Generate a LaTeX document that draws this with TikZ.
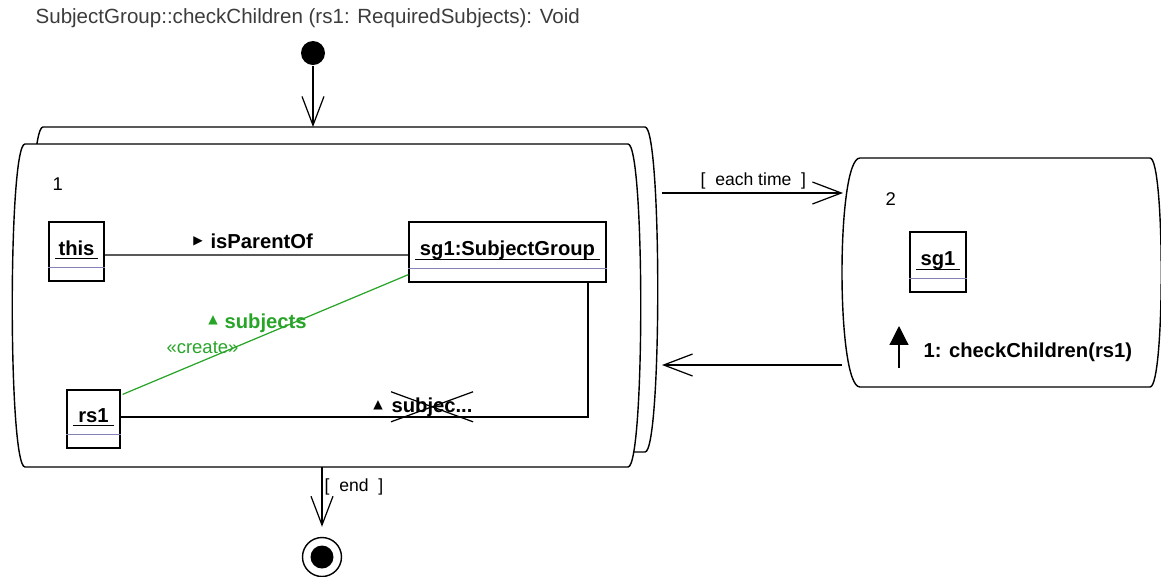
\documentclass[tikz,border=0pt]{standalone}
\usepackage{fontspec}
\setmainfont{Liberation Sans}
\newfontfamily\symfont{DejaVu Sans}
\usetikzlibrary{arrows.meta}
\newdimen\px \px=0.02cm
\definecolor{umlgreen}{RGB}{40,165,40}
\definecolor{titlegray}{RGB}{60,60,60}
\definecolor{sepblue}{RGB}{130,130,180}

\begin{document}
\begin{tikzpicture}[
  x=0.02cm, y=-0.02cm, line width=0.7pt,
  state/.style={draw,line width=0.8pt,fill=white},
  objbox/.style={draw,line width=0.7pt,inner sep=0pt},
  objname/.style={font=\bfseries\fontsize{11.5}{13}\selectfont,inner sep=0pt,anchor=base},
  lbl/.style={font=\bfseries\fontsize{11.5}{13}\selectfont,inner sep=0pt,anchor=base west},
  plain/.style={font=\fontsize{10.5}{12}\selectfont,inner sep=0pt,anchor=base west},
  tri/.style={font=\symfont\fontsize{7}{7}\selectfont,inner sep=0pt},
  open/.style={-{Straight Barb[length=16.4pt,width=12.5pt]}},
  sep/.style={draw=sepblue,line width=0.5pt}
]
  \useasboundingbox (0,0) rectangle (1161,576);

  % title
  \node[plain,font=\fontsize{11.7}{13}\selectfont,text=titlegray] (title) at (35,23) {SubjectGroup::checkChildren (rs1: RequiredSubjects): Void};

  % start
  \node[circle,fill,minimum size=24\px,inner sep=0pt] (init) at (313,53) {};
  \coordinate (s1top) at (313,127);
  \draw[open] (init) -- (s1top);

  % state 1 (stacked)
  \draw[state] (43,127) -- (645,127) .. controls (662,127) and (662,452) .. (645,452)
    -- (43,452) .. controls (26,452) and (26,127) .. (43,127) -- cycle;
  \draw[state] (25,144) -- (628,144) .. controls (645,144) and (645,467) .. (628,467)
    -- (25,467) .. controls (8,467) and (8,144) .. (25,144) -- cycle;
  \node[plain] (n1) at (52,190) {1};

  % objects in state 1
  \node[objbox,minimum width=55\px,minimum height=59\px] (this) at (76.5,251.5) {};
  \node[objbox,minimum width=197\px,minimum height=60\px] (sg1) at (507.5,252) {};
  \node[objbox,minimum width=53\px,minimum height=58\px] (rs1) at (93.5,419) {};
  \node[objname] (thisLbl) at (76.5,255) {this};
  \node[objname] (sg1Lbl) at (507.5,255) {sg1:SubjectGroup};
  \node[objname] (rs1Lbl) at (93.5,422) {rs1};

  % links
  \draw ([yshift=-3.5\px]this.east) -- ([yshift=-3\px]sg1.west);
  \node[tri] (parTri) at (198,241) {▶};
  \node[lbl] (parLbl) at (210,248) {isParentOf};

  \draw ([yshift=2\px]rs1.east) -| ([xshift=80.5\px]sg1.south);
  \node[tri] (delTri) at (378,405) {▲};
  \node[lbl] (delLbl) at (391,412) {subjec...};
  \draw ([yshift=5\px]delLbl.north west) -- ([yshift=-5\px]delLbl.south east);
  \draw ([yshift=-5\px]delLbl.south west) -- ([yshift=5\px]delLbl.north east);

  \draw[umlgreen] ([yshift=8\px]sg1.south west) -- ([xshift=2\px,yshift=-5\px]rs1.north east);
  \node[tri,text=umlgreen] (newTri) at (213,320) {▲};
  \node[lbl,text=umlgreen] (newLbl) at (224,328) {subjects};
  \node[plain,text=umlgreen] (newCr) at (166,353) {«create»};

  % state 2
  \draw[state] (860,158) -- (1150,158) .. controls (1165,158) and (1165,387) .. (1150,387)
    -- (860,387) .. controls (836,387) and (836,158) .. (860,158) -- cycle;
  \node[plain] (n2) at (885,205) {2};
  \node[objbox,minimum width=56\px,minimum height=60\px] (sgb) at (938,262) {};
  \node[objname] (sgbLbl) at (938,265) {sg1};
  \coordinate (msgA) at (899,368);
  \coordinate (msgB) at (899,326);
  \draw[-{Triangle[length=10.8pt,width=10.8pt]}] (msgA) -- (msgB);
  \node[lbl] (msgLbl) at (923,357) {1: checkChildren(rs1)};

  % separators and underlines of the objects
  \foreach \b in {this,sg1,rs1,sgb} {
    \draw[sep] ([yshift=14\px]\b.south west) -- ([yshift=14\px]\b.south east);
    \draw ([xshift=7\px,yshift=23.5\px]\b.south west) -- ([xshift=-7\px,yshift=23.5\px]\b.south east);
  }

  % transitions
  \coordinate (s1out) at (662,193);
  \coordinate (s2in) at (843,193);
  \draw[open] (s1out) -- (s2in);
  \node[plain,font=\fontsize{10}{12}\selectfont] (each) at (700,185) {[\ \ each time\ \ ]};
  \coordinate (s2out) at (842,365);
  \coordinate (s1in) at (662,365);
  \draw[open] (s2out) -- (s1in);

  % end
  \coordinate (s1bot) at (322,467);
  \node[circle,draw,line width=0.8pt,minimum size=39\px,inner sep=0pt] (final) at (322,557) {};
  \node[circle,fill,minimum size=23\px,inner sep=0pt] (finalDot) at (final) {};
  \draw[open,shorten >=5.7pt] (s1bot) -- (final);
  \node[plain,font=\fontsize{10}{12}\selectfont] (endLbl) at (324,491) {[\ \ end\ \ ]};
\end{tikzpicture}
\end{document}
